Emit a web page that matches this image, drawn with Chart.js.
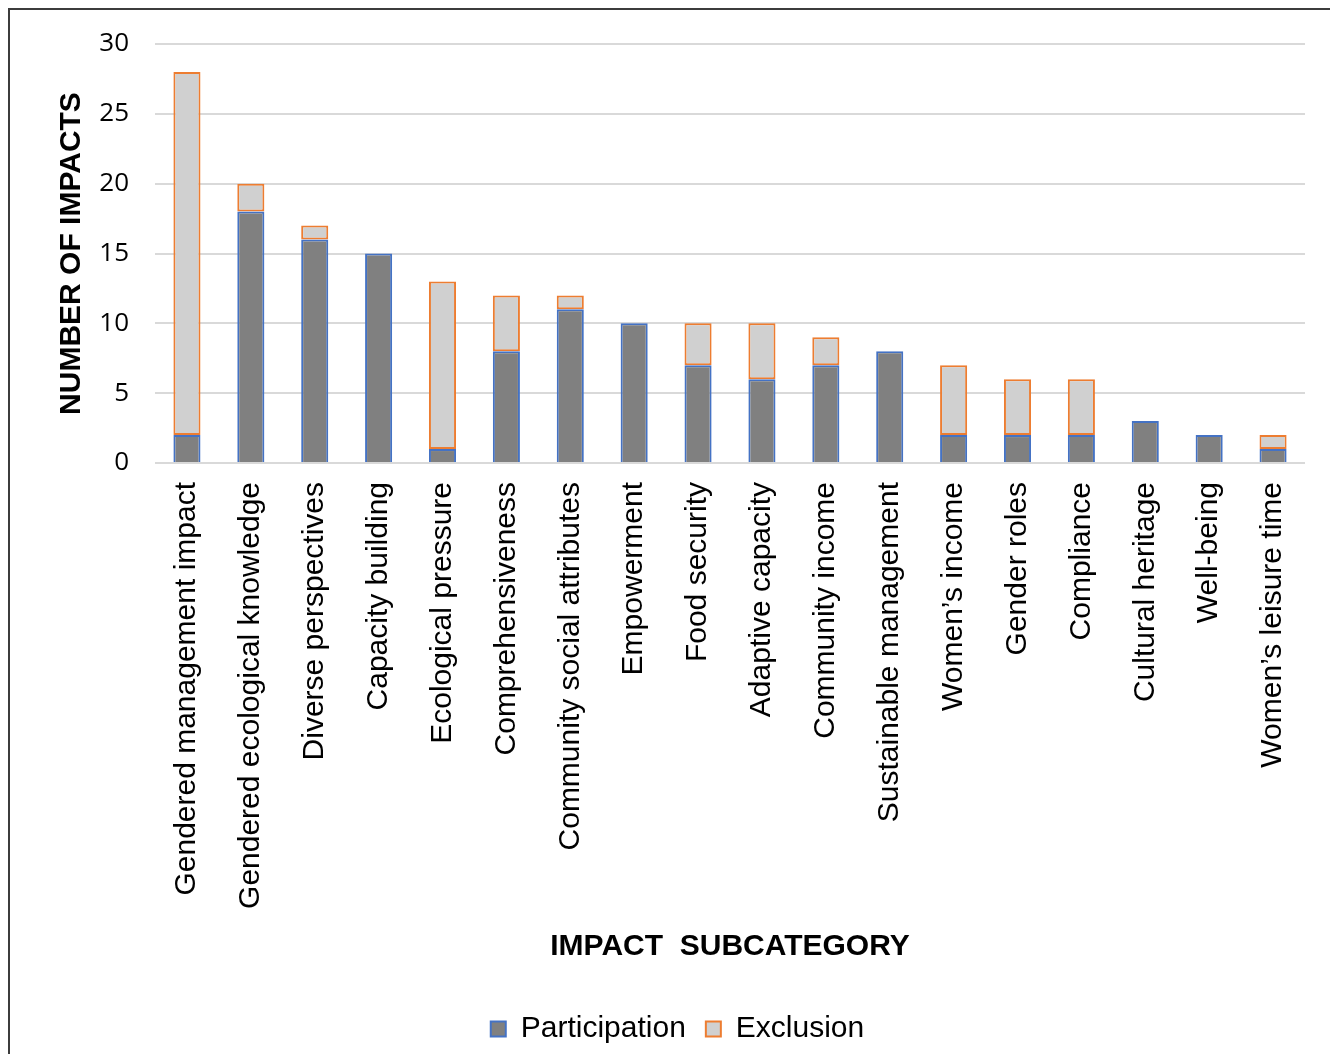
<!DOCTYPE html>
<html>
<head>
<meta charset="utf-8">
<script src="https://cdn.jsdelivr.net/npm/chart.js@4.4.1/dist/chart.umd.min.js"></script>
<style>
  html, body { margin: 0; padding: 0; background: #fff; }
  #wrap { position: relative; width: 1330px; height: 1054px; overflow: hidden; }
  #frame { position: absolute; left: 8px; top: 8px; width: 1400px; height: 1100px;
           border-left: 2px solid #3c3c3c; border-top: 2px solid #3c3c3c; pointer-events: none; }
  canvas { position: absolute; left: 0; top: 0; }
</style>
</head>
<body>
<div id="wrap">
  <canvas id="chart" width="1330" height="1054"></canvas>
  <div id="frame"></div>
</div>
<script>
// ---------- data ----------
const subcategories = [
  'Gendered management impact', 'Gendered ecological knowledge', 'Diverse perspectives',
  'Capacity building', 'Ecological pressure', 'Comprehensiveness',
  'Community social attributes', 'Empowerment', 'Food security',
  'Adaptive capacity', 'Community income', 'Sustainable management',
  'Women\u2019s income', 'Gender roles', 'Compliance',
  'Cultural heritage', 'Well-being', 'Women\u2019s leisure time'
];
const participation = [2, 18, 16, 15, 1, 8, 11, 10, 7, 6, 7, 8, 2, 2, 2, 3, 2, 1];
const exclusion     = [26, 2, 1, 0, 12, 4, 1, 0, 3, 4, 2, 0, 5, 4, 4, 0, 0, 1];
const yTicks = [0, 5, 10, 15, 20, 25, 30];

// ---------- chart ----------
const ctx = document.getElementById('chart').getContext('2d');
new Chart(ctx, {
  type: 'bar',
  data: {
    labels: subcategories,
    datasets: [
      {
        label: 'Participation',
        data: participation,
        backgroundColor: '#808080',
        borderColor: '#4472c4',
        borderWidth: 2,
        borderSkipped: 'start',
        categoryPercentage: 0.8,
        barPercentage: 0.53,
      },
      {
        label: 'Exclusion',
        data: exclusion,
        backgroundColor: '#d0d0d0',
        borderColor: '#ed7d31',
        borderWidth: 2,
        borderSkipped: false,
        categoryPercentage: 0.8,
        barPercentage: 0.53,
      },
    ],
  },
  options: {
    responsive: false,
    animation: false,
    layout: { padding: { left: 50, right: 25, top: 44, bottom: 0 } },
    plugins: {
      tooltip: { enabled: false },
      legend: {
        position: 'bottom',
        labels: {
          boxWidth: 15,
          boxHeight: 15,
          padding: 20,
          color: '#000',
          font: { family: '"Liberation Sans", Arial, sans-serif', size: 30 },
        },
      },
    },
    scales: {
      x: {
        stacked: true,
        grid: { display: false },
        border: { display: false },
        ticks: {
          autoSkip: false,
          maxRotation: 90,
          minRotation: 90,
          padding: 11,
          color: '#000',
          font: { family: '"Liberation Sans", Arial, sans-serif', size: 30 },
        },
        title: {
          display: true,
          text: 'IMPACT  SUBCATEGORY',
          color: '#000',
          font: { family: '"Liberation Sans", Arial, sans-serif', size: 30, weight: 'bold' },
          padding: { bottom: 29 },
        },
        afterFit: function (scale) { scale.height = 531; },
      },
      y: {
        stacked: true,
        min: 0,
        max: 30,
        afterBuildTicks: function (scale) {
          scale.ticks = yTicks.map(function (v) { return { value: v }; });
        },
        grid: { color: '#d9d9d9', lineWidth: 2, drawTicks: false },
        border: { display: false },
        ticks: {
          padding: 26,
          color: '#000',
          font: { family: '"Open Sans", sans-serif', size: 26 },
        },
        title: {
          display: true,
          text: 'NUMBER OF IMPACTS',
          color: '#000',
          font: { family: '"Liberation Sans", Arial, sans-serif', size: 30, weight: 'bold' },
          padding: { top: 4 },
        },
        afterFit: function (scale) { scale.width = 105; },
      },
    },
  },
});
</script>
</body>
</html>
